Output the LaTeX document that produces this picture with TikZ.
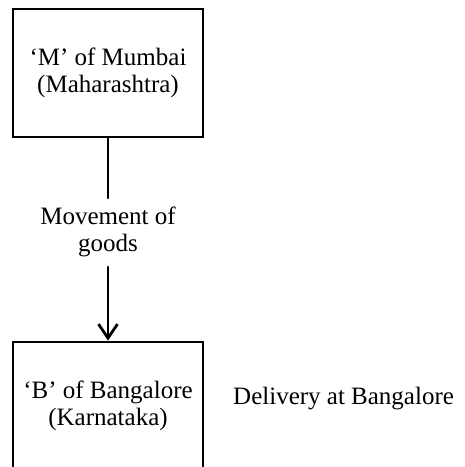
\documentclass[tikz,border=0pt]{standalone}
\usepackage{fontspec}
\setmainfont{Liberation Serif}
\usetikzlibrary{arrows.meta}
\begin{document}
\begin{tikzpicture}[line cap=round, font=\fontsize{25}{27}\selectfont, >={Straight Barb[length=14pt,width=19pt]}, x=1pt, y=1pt]
	\tikzset{city style/.style={draw, line width=2.8pt, minimum width=190pt, minimum height=128pt, align=center, inner sep=0pt}}
	\useasboundingbox (0,0) rectangle (465,-467);
	\node[city style] (mumbai) at (108,-73) {`M' of Mumbai\\(Maharashtra)};
	\node[city style] (bangalore) at (108,-406) {`B' of Bangalore\\(Karnataka)};
	\node[align=center, inner sep=0pt] (goods) at (108,-232) {Movement of\\goods};
	\node[anchor=base west, inner sep=0pt] (delivery) at (233,-404) {Delivery at Bangalore};
	\coordinate (stop) at (108,-198);
	\coordinate (start) at (108,-267);
	\draw[line width=2.8pt] (mumbai.south) -- (stop);
	\draw[->, line width=2.8pt] (start) -- (bangalore.north);
\end{tikzpicture}
\end{document}
